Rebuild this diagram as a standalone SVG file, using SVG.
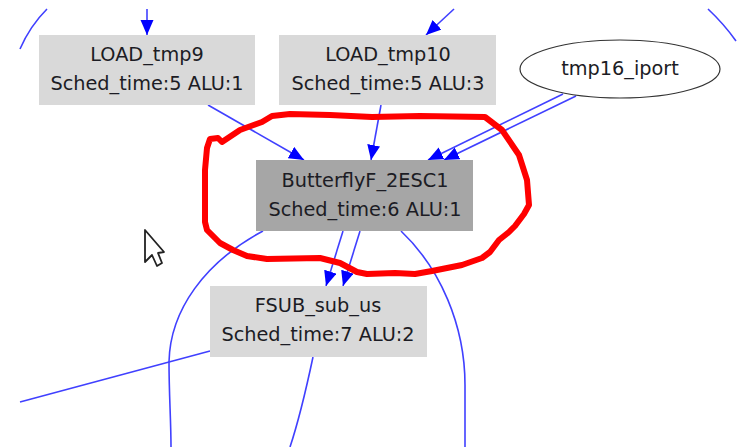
<svg xmlns="http://www.w3.org/2000/svg" width="744" height="447" viewBox="0 0 744 447">
  <style>
    text { font-family: "DejaVu Sans", sans-serif; font-size: 19.3px; fill: #1c1c24; text-anchor: middle; }
    .edge { fill: none; stroke: #4040ff; stroke-width: 1.6; }
    .light { fill: #d9d9d9; }
    .dark { fill: #a6a6a6; }
  </style>
  <defs>
    <marker id="arrow" markerUnits="userSpaceOnUse" markerWidth="16" markerHeight="14" refX="15" refY="6.5" orient="auto">
      <polygon points="0,0 15,6.5 0,13" fill="#0000ff"/>
    </marker>
  </defs>
  <rect width="744" height="447" fill="#ffffff"/>
  <g id="connectors">
    <path class="edge" d="M47,9 Q30,26 20,49"/>
    <path class="edge" d="M708,9 Q724,24 736,41"/>
    <path class="edge" d="M147,9 L147,35" marker-end="url(#arrow)"/>
    <path class="edge" d="M454,9 L426,35" marker-end="url(#arrow)"/>
    <path class="edge" d="M208,105 L304,160" marker-end="url(#arrow)"/>
    <path class="edge" d="M381,105 L371,160" marker-end="url(#arrow)"/>
    <path class="edge" d="M563,94 L428,160" marker-end="url(#arrow)"/>
    <path class="edge" d="M576,96 L444,160" marker-end="url(#arrow)"/>
    <path class="edge" d="M343,231 L326,286" marker-end="url(#arrow)"/>
    <path class="edge" d="M360,231 L343,286" marker-end="url(#arrow)"/>
    <path class="edge" d="M263,231 C205,262 170,310 169,362 C169,395 171,420 171,447"/>
    <path class="edge" d="M401,231 C440,268 465,325 465,385 L465,447"/>
    <path class="edge" d="M210,351 L20,402"/>
    <path class="edge" d="M313,357 C306,390 299,420 290,447"/>
  </g>
  <g id="LOAD_tmp9">
    <rect class="light" x="39" y="35" width="216" height="70"/>
    <text x="147" y="61">LOAD_tmp9</text>
    <text x="147" y="90">Sched_time:5 ALU:1</text>
  </g>
  <g id="LOAD_tmp10">
    <rect class="light" x="279" y="35" width="217" height="70"/>
    <text x="388" y="61">LOAD_tmp10</text>
    <text x="388" y="90">Sched_time:5 ALU:3</text>
  </g>
  <g id="tmp16_iport">
    <ellipse cx="620" cy="69" rx="100" ry="29" fill="#ffffff" stroke="#333333" stroke-width="1.2"/>
    <text x="620" y="75">tmp16_iport</text>
  </g>
  <g id="ButterflyF_2ESC1">
    <rect class="dark" x="256" y="160" width="217" height="71"/>
    <text x="365" y="187">ButterflyF_2ESC1</text>
    <text x="365" y="216">Sched_time:6 ALU:1</text>
  </g>
  <g id="FSUB_sub_us">
    <rect class="light" x="210" y="286" width="217" height="71"/>
    <text x="318" y="312">FSUB_sub_us</text>
    <text x="318" y="341">Sched_time:7 ALU:2</text>
  </g>
  <path id="highlight" fill="none" stroke="#ff0000" stroke-width="6" stroke-linejoin="round" d="M205,170 L207,148 L210,139 L218,138 L222,142 L240,130 L262,122 L272,116 L290,114 L330,115 L372,117 L420,116 L485,117 L502,130 L519,155 L527,180 L529,205 L524,214 L515,226 L509,232 L499,240 L490,252 L482,258 L462,265 L432,271 L415,274 L395,273 L367,274 L357,272 L340,263 L320,258 L267,259 L247,256 L233,250 L220,243 L207,230 L205,222 L205,190 Z"/>
  <path id="cursor" fill="#ffffff" stroke="#222222" stroke-width="1.8" stroke-linejoin="round" d="M145,230 L145,262 L152,255 L157,266 L162,263 L158,253 L164,252 Z"/>
</svg>
